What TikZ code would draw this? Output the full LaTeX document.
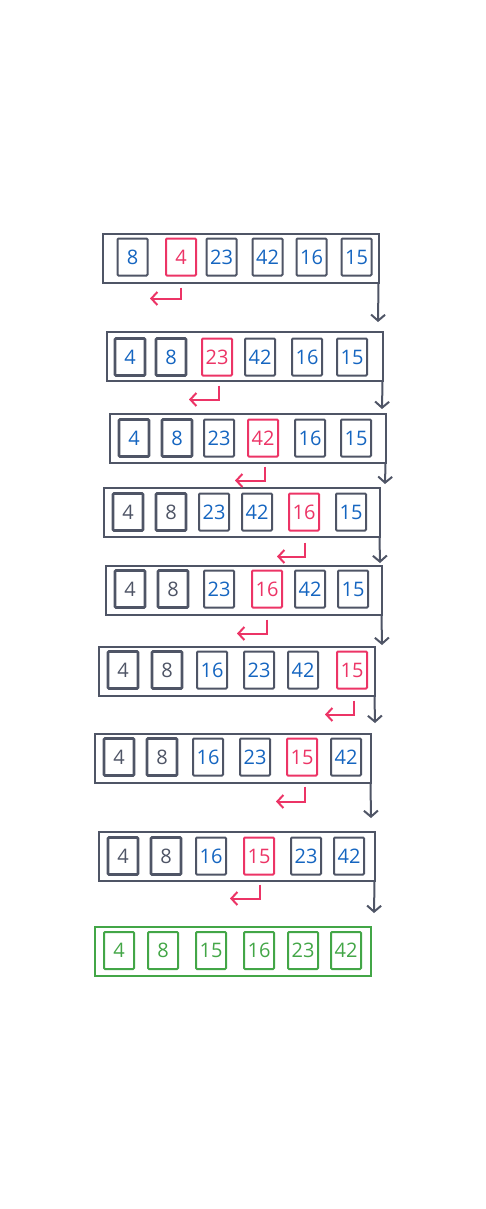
\documentclass[tikz,border=0pt]{standalone}
\usepackage{fontspec}
\setmainfont{Open Sans}
\usetikzlibrary{arrows.meta}
\definecolor{ink}{HTML}{4F5566}
\definecolor{numblue}{HTML}{1565C0}
\definecolor{hot}{HTML}{EC3466}
\definecolor{done}{HTML}{43A647}
\tikzset{
  cell/.style={draw=ink, line width=2pt, minimum width=30pt, minimum height=37pt, inner sep=0pt,
    font=\fontsize{20}{20}\selectfont, rounded corners=1pt},
  sorted/.style={line width=2.8pt},
  plain/.style={},
  hotcell/.style={draw=hot},
  greencell/.style={draw=done},
  outer/.style={draw=ink, line width=2pt, minimum width=276pt, minimum height=49pt, inner sep=0pt},
  garrow/.style={draw=ink, line width=2pt, -{Straight Barb[length=6pt,width=14pt,line width=2pt]}},
  rarrow/.style={draw=hot, line width=2pt, -{Straight Barb[length=6pt,width=13pt,line width=2pt]}},
}
\begin{document}
\begin{tikzpicture}[x=1pt,y=-1pt]
\useasboundingbox (0,0) rectangle (485,1209);
% row 1
\node[outer] (r1o) at (240.5,258) {};
\foreach \n/\cx/\t/\c/\s in {1/132.5/8/numblue/plain,2/181/4/hot/hotcell,3/221.5/23/numblue/plain,4/267.5/42/numblue/plain,5/311.5/16/numblue/plain,6/356.5/15/numblue/plain}
  \node[cell,\s,text=\c] (r1c\n) at (\cx,257) {\t};
% row 2
\node[outer] (r2o) at (244.5,356) {};
\foreach \n/\cx/\t/\c/\s in {1/130/4/numblue/sorted,2/171/8/numblue/sorted,3/217/23/hot/hotcell,4/260/42/numblue/plain,5/307/16/numblue/plain,6/352/15/numblue/plain}
  \node[cell,\s,text=\c] (r2c\n) at (\cx,357) {\t};
% row 3
\node[outer] (r3o) at (247.5,438) {};
\foreach \n/\cx/\t/\c/\s in {1/134/4/numblue/sorted,2/177/8/numblue/sorted,3/219/23/numblue/plain,4/263/42/hot/hotcell,5/310/16/numblue/plain,6/356/15/numblue/plain}
  \node[cell,\s,text=\c] (r3c\n) at (\cx,438) {\t};
% row 4
\node[outer] (r4o) at (241.5,512) {};
\foreach \n/\cx/\t/\c/\s in {1/128/4/ink/sorted,2/171/8/ink/sorted,3/214/23/numblue/plain,4/257/42/numblue/plain,5/304/16/hot/hotcell,6/351/15/numblue/plain}
  \node[cell,\s,text=\c] (r4c\n) at (\cx,512) {\t};
% row 5
\node[outer] (r5o) at (243.5,590) {};
\foreach \n/\cx/\t/\c/\s in {1/130/4/ink/sorted,2/173/8/ink/sorted,3/219/23/numblue/plain,4/267/16/hot/hotcell,5/310/42/numblue/plain,6/353/15/numblue/plain}
  \node[cell,\s,text=\c] (r5c\n) at (\cx,589) {\t};
% row 6
\node[outer] (r6o) at (236.5,671) {};
\foreach \n/\cx/\t/\c/\s in {1/123/4/ink/sorted,2/167/8/ink/sorted,3/212/16/numblue/plain,4/259/23/numblue/plain,5/303/42/numblue/plain,6/352/15/hot/hotcell}
  \node[cell,\s,text=\c] (r6c\n) at (\cx,670) {\t};
% row 7
\node[outer] (r7o) at (232.5,758) {};
\foreach \n/\cx/\t/\c/\s in {1/119/4/ink/sorted,2/162/8/ink/sorted,3/208/16/numblue/plain,4/255/23/numblue/plain,5/302/15/hot/hotcell,6/346/42/numblue/plain}
  \node[cell,\s,text=\c] (r7c\n) at (\cx,757) {\t};
% row 8
\node[outer] (r8o) at (236.5,856) {};
\foreach \n/\cx/\t/\c/\s in {1/123/4/ink/sorted,2/166/8/ink/sorted,3/211/16/numblue/plain,4/259/15/hot/hotcell,5/306/23/numblue/plain,6/349/42/numblue/plain}
  \node[cell,\s,text=\c] (r8c\n) at (\cx,856) {\t};
% row 9 (sorted)
\node[outer,draw=done] (r9o) at (232.5,951) {};
\foreach \n/\cx/\t in {1/119/4,2/163/8,3/211/15,4/259/16,5/303/23,6/346/42}
  \node[cell,greencell,text=done] (r9c\n) at (\cx,950.5) {\t};
% gray flow arrows
\coordinate (g1) at (378,322);
\coordinate (g2) at (382,409);
\coordinate (g3) at (385,484);
\coordinate (g4) at (380,563);
\coordinate (g5) at (382,645);
\coordinate (g6) at (375,723);
\coordinate (g7) at (371,818);
\coordinate (g8) at (374,913);
\draw[garrow] ([xshift=-1pt]r1o.south east) -- (g1);
\draw[garrow] ([xshift=-1pt]r2o.south east) -- (g2);
\draw[garrow] ([xshift=-1pt]r3o.south east) -- (g3);
\draw[garrow] ([xshift=-1pt]r4o.south east) -- (g4);
\draw[garrow] ([xshift=-1pt]r5o.south east) -- (g5);
\draw[garrow] ([xshift=-1pt]r6o.south east) -- (g6);
\draw[garrow] ([xshift=-1pt]r7o.south east) -- (g7);
\draw[garrow] ([xshift=-1pt]r8o.south east) -- (g8);
% red insertion arrows
\draw[rarrow] ([yshift=-11pt]r1c2.south) -- ++(0,11) -- ++(-31,0);
\draw[rarrow] ([xshift=2pt,yshift=-9pt]r2c3.south) -- ++(0,14) -- ++(-30,0);
\draw[rarrow] ([xshift=2pt,yshift=-9pt]r3c4.south) -- ++(0,14) -- ++(-30,0);
\draw[rarrow] ([xshift=1pt,yshift=-11pt]r4c5.south) -- ++(0,14) -- ++(-28,0);
\draw[rarrow] ([yshift=-11pt]r5c4.south) -- ++(0,14) -- ++(-30,0);
\draw[rarrow] ([xshift=2pt,yshift=-11pt]r6c6.south) -- ++(0,14) -- ++(-29,0);
\draw[rarrow] ([xshift=3pt,yshift=-10pt]r7c5.south) -- ++(0,15) -- ++(-29,0);
\draw[rarrow] ([xshift=1pt,yshift=-9pt]r8c4.south) -- ++(0,14) -- ++(-30,0);
\end{tikzpicture}
\end{document}
